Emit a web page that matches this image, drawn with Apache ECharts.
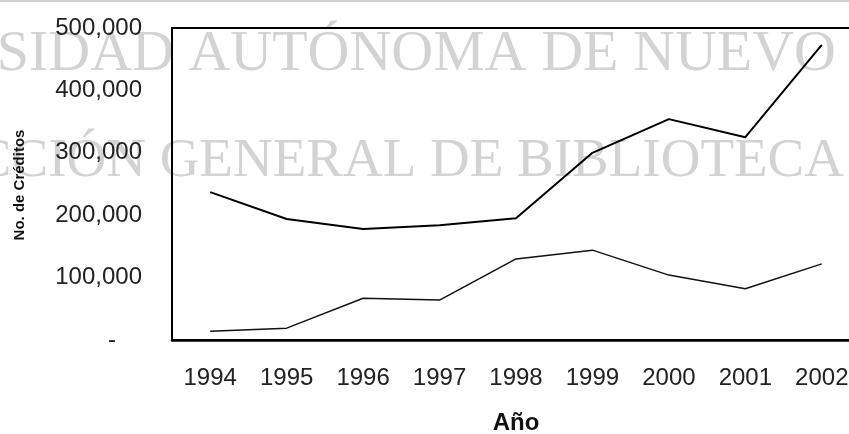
<!DOCTYPE html>
<html>
<head>
<meta charset="utf-8">
<script src="https://cdn.jsdelivr.net/npm/echarts@6/dist/echarts.min.js"></script>
<style>
html, body { margin: 0; padding: 0; background: #fff; }
#chart { width: 849px; height: 434px; }
</style>
</head>
<body>
<div id="chart"></div>
<script>
var years = ['1994', '1995', '1996', '1997', '1998', '1999', '2000', '2001', '2002'];
var creditosTotal = [237000, 194000, 178000, 184000, 195000, 300000, 354000, 325000, 473000];
var creditosOtros = [14000, 19000, 67000, 64000, 130000, 144000, 104000, 82000, 122000];
var yTicks = [0, 100000, 200000, 300000, 400000, 500000];
var yTickLabels = ['-', '100,000', '200,000', '300,000', '400,000', '500,000'];

var chart = echarts.init(document.getElementById('chart'));

var option = {
    animation: false,
    backgroundColor: '#fff',
    graphic: [
        {
            type: 'line', z: -10,
            shape: { x1: 0, y1: 1, x2: 849, y2: 1 },
            style: { stroke: '#d0d0d0', lineWidth: 2 }
        },
        {
            type: 'text', z: -10, x: 836, y: 26,
            style: {
                text: 'SIDAD AUTÓNOMA DE NUEVO',
                font: '58px "Liberation Serif"',
                fill: '#d3d3d3', align: 'right', verticalAlign: 'top'
            }
        },
        {
            type: 'text', z: -10, x: 844, y: 134,
            style: {
                text: 'CCIÓN GENERAL DE BIBLIOTECA',
                font: '55px "Liberation Serif"',
                fill: '#d3d3d3', align: 'right', verticalAlign: 'top'
            }
        },
        {
            type: 'text', x: 20, y: 185, rotation: Math.PI / 2,
            style: {
                text: 'No. de Créditos',
                font: 'bold 15px "Liberation Sans"',
                fill: '#111', align: 'center', verticalAlign: 'middle'
            }
        }
    ],
    grid: {
        left: 172,
        top: 28,
        width: 688,
        height: 312,
        outerBoundsMode: 'none',
        containLabel: false,
        show: true,
        borderColor: '#000',
        borderWidth: 2,
        backgroundColor: 'transparent'
    },
    xAxis: {
        type: 'category',
        data: years,
        boundaryGap: true,
        name: 'Año',
        nameLocation: 'middle',
        nameGap: 71,
        nameTextStyle: { fontFamily: 'Liberation Sans', fontSize: 24, fontWeight: 'bold', color: '#111' },
        axisLine: { show: true, lineStyle: { color: '#000', width: 2.5 } },
        axisTick: { show: false },
        axisLabel: { margin: 26, fontFamily: 'Liberation Sans', fontSize: 24, color: '#222' },
        splitLine: { show: false }
    },
    yAxis: {
        type: 'value',
        min: 0,
        max: 500000,
        interval: 100000,
        axisLine: { show: true, lineStyle: { color: '#000', width: 2 } },
        axisTick: { show: false },
        splitLine: { show: false },
        axisLabel: {
            margin: 30,
            fontFamily: 'Liberation Sans',
            fontSize: 24,
            color: '#222',
            formatter: function (v) {
                var i = yTicks.indexOf(v);
                var s = i >= 0 ? yTickLabels[i] : '';
                return v === 0 ? '{dash|' + s + '}' : s;
            },
            rich: {
                dash: { fontFamily: 'Liberation Sans', fontSize: 24, color: '#222', padding: [0, 26, 0, 0] }
            }
        }
    },
    series: [
        {
            name: 'Total',
            type: 'line',
            data: creditosTotal,
            symbol: 'none',
            lineStyle: { color: '#000', width: 2 }
        },
        {
            name: 'Otros',
            type: 'line',
            data: creditosOtros,
            symbol: 'none',
            lineStyle: { color: '#111', width: 1.5 }
        }
    ]
};

chart.setOption(option);
</script>
</body>
</html>
